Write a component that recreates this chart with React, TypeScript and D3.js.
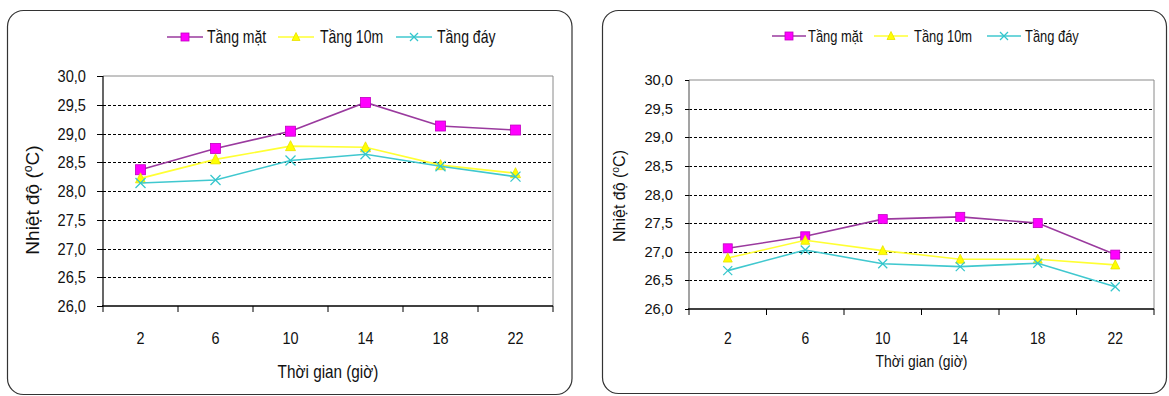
import React from "react";
import * as d3 from "d3";

// Sampling hours (x categories)
const hours = ["2", "6", "10", "14", "18", "22"];

// Series names
const seriesNames = ["Tầng mặt", "Tầng 10m", "Tầng đáy"];

// Left panel temperatures (°C)
const leftSurface = [28.37, 28.74, 29.04, 29.54, 29.13, 29.06];
const left10m = [28.22, 28.55, 28.78, 28.76, 28.45, 28.31];
const leftBottom = [28.14, 28.19, 28.53, 28.64, 28.43, 28.25];

// Right panel temperatures (°C)
const rightSurface = [27.06, 27.27, 27.57, 27.61, 27.5, 26.95];
const right10m = [26.89, 27.2, 27.02, 26.87, 26.87, 26.77];
const rightBottom = [26.67, 27.03, 26.79, 26.74, 26.8, 26.39];

// Y axis ticks
const yTicks = [26, 26.5, 27, 27.5, 28, 28.5, 29, 29.5, 30];
const yDomain: [number, number] = [26, 30];

const xTitle = "Thời gian (giờ)";
const yTitleMain = "Nhiệt độ (";
const yTitleSup = "o";
const yTitleEnd = "C)";

const FONT = "Arial, 'Liberation Sans', Helvetica, sans-serif";

const STYLES = [
  { line: "#9a3a9e", fill: "#ff00ff", stroke: "#c000c0", shape: "square" },
  { line: "#ffff33", fill: "#ffff00", stroke: "#e8e000", shape: "triangle" },
  { line: "#40c8cf", fill: "none", stroke: "#33c6cc", shape: "cross" },
];

const fmt = (v: number) => d3.format(".1f")(v).replace(".", ",");

type Layout = {
  frame: { x: number; y: number; w: number; h: number; r: number };
  plot: { x0: number; x1: number; y0: number; y1: number };
  legend: { y: number; lineX: number[]; lineLen: number; textX: number[]; size: number; sx: number };
  yTick: { x: number; size: number; sx: number; dy: number; tickLen: number };
  xTick: { y: number; size: number; sx: number };
  xTitle: { y: number; size: number; sx: number };
  yTitle: { x: number; y: number; size: number };
  markerSize: number;
  yAxisColor: string;
};

function Marker({ shape, x, y, s, st }: { shape: string; x: number; y: number; s: number; st: any }) {
  const h = s / 2;
  if (shape === "square") {
    return <rect x={x - h} y={y - h} width={s} height={s} fill={st.fill} stroke={st.stroke} strokeWidth={0.8} />;
  }
  if (shape === "triangle") {
    const p = `${x},${y - h - 0.5} ${x + h},${y + h - 0.5} ${x - h},${y + h - 0.5}`;
    return <polygon points={p} fill={st.fill} stroke={st.stroke} strokeWidth={0.8} />;
  }
  return (
    <g stroke={st.stroke} strokeWidth={1.3}>
      <line x1={x - h} y1={y - h} x2={x + h} y2={y + h} />
      <line x1={x - h} y1={y + h} x2={x + h} y2={y - h} />
    </g>
  );
}

function Txt({ x, y, size, sx, anchor, children }: any) {
  return (
    <text
      transform={`translate(${x},${y}) scale(${sx},1)`}
      fontSize={size}
      fontFamily={FONT}
      textAnchor={anchor}
      fill="#111"
    >
      {children}
    </text>
  );
}

function Panel({ L, series }: { L: Layout; series: number[][] }) {
  const x = d3.scaleBand<string>().domain(hours).range([L.plot.x0, L.plot.x1]);
  const y = d3.scaleLinear().domain(yDomain).range([L.plot.y1, L.plot.y0]);
  const cx = (h: string) => (x(h) as number) + x.bandwidth() / 2;
  const line = d3
    .line<number>()
    .x((_, i) => cx(hours[i]))
    .y((v) => y(v));
  const boundaries = hours.map((h) => x(h) as number).concat([L.plot.x1]);
  const f = L.frame;

  return (
    <g>
      <rect x={f.x} y={f.y} width={f.w} height={f.h} rx={f.r} ry={f.r} fill="#fff" stroke="#333" strokeWidth={1.2} />

      {/* Legend */}
      {seriesNames.map((name, i) => {
        const st = STYLES[i];
        const lx = L.legend.lineX[i];
        return (
          <g key={name}>
            <line x1={lx} x2={lx + L.legend.lineLen} y1={L.legend.y} y2={L.legend.y} stroke={st.line} strokeWidth={1.6} />
            <Marker shape={st.shape} x={lx + L.legend.lineLen / 2} y={L.legend.y} s={8} st={st} />
            <Txt x={L.legend.textX[i]} y={L.legend.y + 6} size={L.legend.size} sx={L.legend.sx} anchor="start">
              {name}
            </Txt>
          </g>
        );
      })}

      {/* Plot border (top and right) */}
      <line x1={L.plot.x0} x2={L.plot.x1} y1={L.plot.y0} y2={L.plot.y0} stroke="#8a8a8a" strokeWidth={1} />
      <line x1={L.plot.x1} x2={L.plot.x1} y1={L.plot.y0} y2={L.plot.y1} stroke="#8a8a8a" strokeWidth={1} />

      {/* Dashed gridlines */}
      {yTicks
        .filter((t) => t > yDomain[0] && t < yDomain[1])
        .map((t) => (
          <line
            key={t}
            x1={L.plot.x0}
            x2={L.plot.x1}
            y1={Math.round(y(t)) + 0.5}
            y2={Math.round(y(t)) + 0.5}
            stroke="#000"
            strokeWidth={1}
            strokeDasharray="3,2"
          />
        ))}

      {/* Y axis */}
      <line x1={L.plot.x0} x2={L.plot.x0} y1={L.plot.y0} y2={L.plot.y1} stroke={L.yAxisColor} strokeWidth={1.2} />
      {yTicks.map((t) => (
        <g key={t}>
          <line
            x1={L.plot.x0 - L.yTick.tickLen}
            x2={L.plot.x0}
            y1={Math.round(y(t)) + 0.5}
            y2={Math.round(y(t)) + 0.5}
            stroke="#000"
            strokeWidth={1}
          />
          <Txt x={L.yTick.x} y={y(t) + L.yTick.dy} size={L.yTick.size} sx={L.yTick.sx} anchor="end">
            {fmt(t)}
          </Txt>
        </g>
      ))}

      {/* X axis */}
      <line x1={L.plot.x0 - 1} x2={L.plot.x1} y1={L.plot.y1} y2={L.plot.y1} stroke="#000" strokeWidth={1.3} />
      {boundaries.map((b, i) => (
        <line key={i} x1={b} x2={b} y1={L.plot.y1} y2={L.plot.y1 + 6} stroke="#000" strokeWidth={1} />
      ))}
      {hours.map((h) => (
        <Txt key={h} x={cx(h)} y={L.xTick.y} size={L.xTick.size} sx={L.xTick.sx} anchor="middle">
          {h}
        </Txt>
      ))}

      {/* Axis titles */}
      <Txt x={(L.plot.x0 + L.plot.x1) / 2} y={L.xTitle.y} size={L.xTitle.size} sx={L.xTitle.sx} anchor="middle">
        {xTitle}
      </Txt>
      <text
        transform={`translate(${L.yTitle.x},${L.yTitle.y}) rotate(-90)`}
        fontSize={L.yTitle.size}
        fontFamily={FONT}
        textAnchor="middle"
        fill="#111"
      >
        {yTitleMain}
        <tspan fontSize={L.yTitle.size * 0.65} dy={-L.yTitle.size * 0.38}>
          {yTitleSup}
        </tspan>
        <tspan dy={L.yTitle.size * 0.38}>{yTitleEnd}</tspan>
      </text>

      {/* Series */}
      {series.map((vals, si) => {
        const st = STYLES[si];
        return (
          <g key={si}>
            <path d={line(vals) || ""} fill="none" stroke={st.line} strokeWidth={1.6} />
            {vals.map((v, i) => (
              <Marker key={i} shape={st.shape} x={cx(hours[i])} y={y(v)} s={L.markerSize} st={st} />
            ))}
          </g>
        );
      })}
    </g>
  );
}

const leftLayout: Layout = {
  frame: { x: 7.5, y: 10.5, w: 564.5, h: 384, r: 16 },
  plot: { x0: 103, x1: 553, y0: 76, y1: 306 },
  legend: { y: 37, lineX: [167, 278, 396], lineLen: 36, textX: [207, 320, 437], size: 18, sx: 0.78 },
  yTick: { x: 86, size: 17, sx: 0.86, dy: 6, tickLen: 6 },
  xTick: { y: 344, size: 17, sx: 0.85 },
  xTitle: { y: 378, size: 18, sx: 0.85 },
  yTitle: { x: 39, y: 200, size: 19 },
  markerSize: 10,
  yAxisColor: "#000",
};

const rightLayout: Layout = {
  frame: { x: 602.5, y: 10.5, w: 564, h: 383, r: 16 },
  plot: { x0: 689, x1: 1154, y0: 80, y1: 309 },
  legend: { y: 36, lineX: [772, 874, 987], lineLen: 34, textX: [808, 914, 1025], size: 17, sx: 0.76 },
  yTick: { x: 673, size: 15, sx: 0.98, dy: 5, tickLen: 4 },
  xTick: { y: 344, size: 17, sx: 0.82 },
  xTitle: { y: 367, size: 17, sx: 0.82 },
  yTitle: { x: 625, y: 196, size: 16 },
  markerSize: 9,
  yAxisColor: "#666",
};

export default function App() {
  return (
    <svg
      width={1169}
      height={396}
      style={{ position: "absolute", left: 0, top: 0, background: "#fff" }}
    >
      <rect width={1169} height={396} fill="#fff" />
      <Panel L={leftLayout} series={[leftSurface, left10m, leftBottom]} />
      <Panel L={rightLayout} series={[rightSurface, right10m, rightBottom]} />
    </svg>
  );
}
